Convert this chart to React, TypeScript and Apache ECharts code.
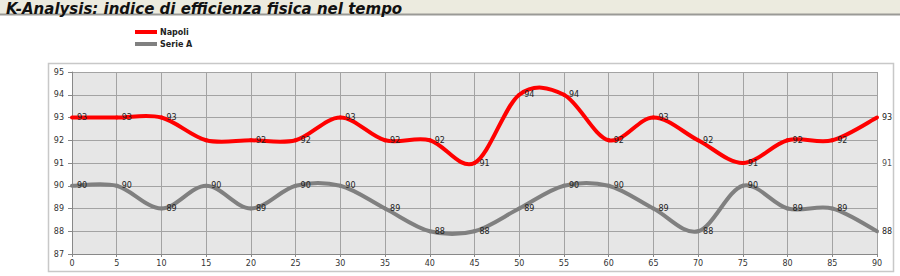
import React, { useEffect, useRef } from "react";
import * as echarts from "echarts";

const minutes = [0, 5, 10, 15, 20, 25, 30, 35, 40, 45, 50, 55, 60, 65, 70, 75, 80, 85, 90];
const napoli = [93, 93, 93, 92, 92, 92, 93, 92, 92, 91, 94, 94, 92, 93, 92, 91, 92, 92, 93];
const serieA = [90, 90, 89, 90, 89, 90, 90, 89, 88, 88, 89, 90, 90, 89, 88, 90, 89, 89, 88];
const napoliHiddenLabels = [15];
const extraLabel = [[90, 91]];
const titleText = "K-Analysis: indice di efficienza fisica nel tempo";
const seriesNames = ["Napoli", "Serie A"];
const seriesColors = ["#ff0000", "#808080"];

const FONT = "DejaVu Sans";

// Excel-like (Catmull-Rom) smoothed segment, drawn through the chart's own coordinate system
function makeRenderItem(color: string, hidden: number[]) {
  return (params: any, api: any) => {
    const i = params.dataIndexInside;
    const n = params.dataInsideLength;
    const pt = (k: number) => api.coord([api.value(0, k), api.value(1, k)]);
    const children: any[] = [];
    const p1 = pt(i);
    if (i < n - 1) {
      const p0 = i > 0 ? pt(i - 1) : p1;
      const p2 = pt(i + 1);
      const p3 = i + 2 < n ? pt(i + 2) : p2;
      children.push({
        type: "bezierCurve",
        shape: {
          x1: p1[0],
          y1: p1[1],
          x2: p2[0],
          y2: p2[1],
          cpx1: p1[0] + (p2[0] - p0[0]) / 6,
          cpy1: p1[1] + (p2[1] - p0[1]) / 6,
          cpx2: p2[0] - (p3[0] - p1[0]) / 6,
          cpy2: p2[1] - (p3[1] - p1[1]) / 6,
        },
        style: { stroke: color, lineWidth: 4, fill: null, lineCap: "round" },
      });
    }
    if (!hidden.includes(api.value(0, i))) {
      children.push({
        type: "text",
        z2: 10,
        x: p1[0] + 5,
        y: p1[1],
        style: {
          text: String(api.value(1, i)),
          fontSize: 8,
          fontFamily: FONT,
          fill: "#222",
          align: "left",
          verticalAlign: "middle",
        },
      });
    }
    return { type: "group", children };
  };
}

export default function App() {
  const ref = useRef<HTMLDivElement>(null);
  useEffect(() => {
    document.body.style.margin = "0";
    const chart = echarts.init(ref.current!, null, { renderer: "svg" });
    chart.setOption({
      animation: false,
      backgroundColor: "#fff",
      title: {
        text: titleText,
        left: 1,
        top: -4,
        textStyle: {
          fontFamily: FONT,
          fontSize: 15,
          fontStyle: "italic",
          fontWeight: "bold",
          color: "#111",
        },
      },
      graphic: [
        { type: "rect", z: -10, shape: { x: 0, y: 0, width: 900, height: 14 }, style: { fill: "#ecebdf" } },
        { type: "line", z: -10, shape: { x1: 0, y1: 14.5, x2: 900, y2: 14.5 }, style: { stroke: "#9a9a96", lineWidth: 2 } },
        { type: "rect", z: -10, shape: { x: 48.5, y: 63.5, width: 845, height: 208 }, style: { fill: "#fff", stroke: "#c8c8c8", lineWidth: 1.5 } },
      ],
      legend: {
        data: seriesNames,
        orient: "vertical",
        left: 130,
        top: 23,
        itemWidth: 22,
        itemHeight: 4,
        itemGap: 4,
        icon: "rect",
        textStyle: { fontFamily: FONT, fontSize: 8, fontWeight: "bold", color: "#222", padding: [0, 0, 0, -2] },
      },
      grid: { left: 72, right: 23, top: 72, bottom: 22, show: true, backgroundColor: "#e6e6e6", borderWidth: 0 },
      xAxis: {
        type: "value",
        min: 0,
        max: 90,
        interval: 5,
        axisLine: { show: true, lineStyle: { color: "#888", width: 1 } },
        axisTick: { show: true, length: 3, lineStyle: { color: "#888" } },
        axisLabel: { fontFamily: FONT, fontSize: 8, color: "#333", margin: 5 },
        splitLine: { show: true, lineStyle: { color: "#a3a3a3", width: 1 } },
      },
      yAxis: {
        type: "value",
        min: 87,
        max: 95,
        interval: 1,
        axisLine: { show: true, lineStyle: { color: "#888", width: 1 } },
        axisTick: { show: true, length: 4, lineStyle: { color: "#888" } },
        axisLabel: { fontFamily: FONT, fontSize: 8, color: "#333", margin: 8 },
        splitLine: { show: true, lineStyle: { color: "#a3a3a3", width: 1 } },
      },
      series: [
        {
          name: seriesNames[0],
          type: "custom",
          clip: false,
          itemStyle: { color: seriesColors[0] },
          renderItem: makeRenderItem(seriesColors[0], napoliHiddenLabels),
          data: minutes.map((m, i) => [m, napoli[i]]),
          z: 3,
        },
        {
          name: seriesNames[1],
          type: "custom",
          clip: false,
          itemStyle: { color: seriesColors[1] },
          renderItem: makeRenderItem(seriesColors[1], []),
          data: minutes.map((m, i) => [m, serieA[i]]),
          z: 2,
        },
        {
          name: "extra",
          type: "scatter",
          symbolSize: 0,
          label: {
            show: true,
            position: "right",
            distance: 5,
            fontSize: 8,
            fontFamily: FONT,
            color: "#222",
            formatter: (p: any) => String(p.value[1]),
          },
          data: extraLabel,
        },
      ],
    });
    return () => chart.dispose();
  }, []);
  return <div ref={ref} style={{ width: 900, height: 276 }} />;
}
